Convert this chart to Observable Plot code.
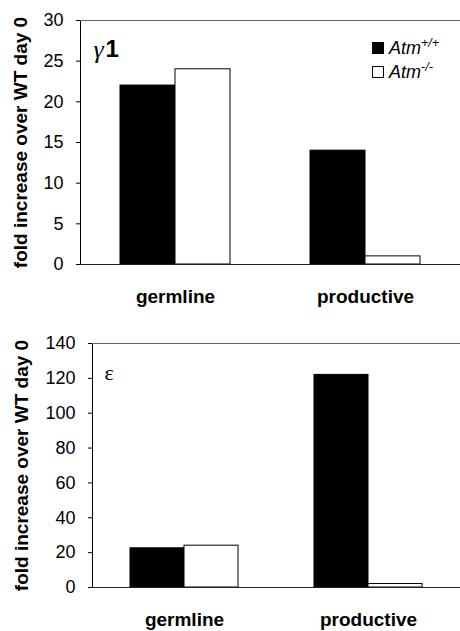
<!DOCTYPE html>
<html>
<head>
<meta charset="utf-8">
<script src="https://cdn.jsdelivr.net/npm/d3@7"></script>
<script src="https://cdn.jsdelivr.net/npm/@observablehq/plot@0.6"></script>
<style>
  html, body { margin: 0; padding: 0; background: #fff; }
  #chart { position: relative; width: 460px; height: 631px; font-family: "Liberation Sans", Arial, sans-serif; }
  #chart svg { display: block; }
  [aria-label="fx-axis tick label"] { font-size: 19px; font-weight: bold; }
  [aria-label="y-axis label"] { font-size: 19px; font-weight: bold; }
  [aria-label="y-axis tick"] { stroke: #888; }
  .legend { position: absolute; left: 372px; top: 36px; font-style: italic; font-size: 18px; line-height: 24px; }
  .legend .row { display: flex; align-items: center; }
  .legend .sw { width: 10px; height: 10px; border: 1px solid #000; margin-right: 5px; }
  .legend sup { font-size: 12.5px; vertical-align: 7px; line-height: 0; }
</style>
</head>
<body>
<div id="chart"></div>
<script>
// ---- data ----
const categories = ["germline", "productive"];
const seriesBase = "Atm";
const seriesGenotype = ["+/+", "-/-"];
const seriesColors = ["#000000", "#ffffff"];

const gamma1WT = [22, 14];
const gamma1KO = [24, 1];
const epsilonWT = [22.5, 122];
const epsilonKO = [24, 2];

const gamma1Ticks = [0, 5, 10, 15, 20, 25, 30];
const epsilonTicks = [0, 20, 40, 60, 80, 100, 120, 140];

const isotypeGreek = ["γ", "ε"];
const isotypeSuffix = ["1", ""];
const yLabel = "fold increase over WT day 0";

// ---- build ----
const seriesNames = seriesGenotype.map(g => seriesBase + g);
function rows(wt, ko) {
  const out = [];
  categories.forEach((c, i) => {
    out.push({category: c, series: seriesNames[0], value: wt[i]});
    out.push({category: c, series: seriesNames[1], value: ko[i]});
  });
  return out;
}

function panel({data, ticks, height, marginLeft, marginTop, marginBottom, labelOffset, greek, suffix, greekSize, greekStyle, greekDx, greekDy}) {
  const top = ticks[ticks.length - 1];
  const marks = [
    Plot.ruleY([top], {stroke: "#666", strokeWidth: 1}),
    Plot.barY(data, {fx: "category", x: "series", y: "value", fill: "series", stroke: "#000", strokeWidth: 1}),
    Plot.ruleY([0], {stroke: "#222", strokeWidth: 1}),
    Plot.text([greek], {fx: () => categories[0], text: d => d, frameAnchor: "top-left", textAnchor: "start", dx: greekDx, dy: greekDy, fontFamily: "Liberation Serif, serif", fontStyle: greekStyle, fontSize: greekSize, fill: "#000"})
  ];
  if (suffix) {
    marks.push(Plot.text([suffix], {fx: () => categories[0], text: d => d, frameAnchor: "top-left", textAnchor: "start", dx: greekDx + 12, dy: greekDy, fontFamily: "Liberation Sans, Arial, sans-serif", fontWeight: "bold", fontSize: 24, fill: "#000"}));
  }
  return Plot.plot({
    width: 460,
    height,
    marginLeft,
    marginRight: 0,
    marginTop,
    marginBottom,
    style: {fontFamily: "Liberation Sans, Arial, sans-serif", fontSize: "18px", color: "#000", background: "#fff", overflow: "visible"},
    fx: {domain: categories, padding: 0, label: null, tickSize: 0, tickPadding: 25, axis: "bottom"},
    x: {domain: seriesNames, paddingInner: 0, paddingOuter: 0.7, axis: null},
    y: {domain: [0, top], ticks, tickSize: 4, tickPadding: 13, label: yLabel, labelArrow: "none", labelAnchor: "center", labelOffset, line: true},
    color: {domain: seriesNames, range: seriesColors},
    marks
  });
}

const chart = document.getElementById("chart");
chart.appendChild(panel({data: rows(gamma1WT, gamma1KO), ticks: gamma1Ticks, height: 320, marginLeft: 80, marginTop: 20, marginBottom: 56, labelOffset: 67, greek: isotypeGreek[0], suffix: isotypeSuffix[0], greekSize: 26, greekStyle: "italic", greekDx: 13, greekDy: 19}));
chart.appendChild(panel({data: rows(epsilonWT, epsilonKO), ticks: epsilonTicks, height: 311, marginLeft: 91, marginTop: 23, marginBottom: 44, labelOffset: 78, greek: isotypeGreek[1], suffix: isotypeSuffix[1], greekSize: 22, greekStyle: "normal", greekDx: 12, greekDy: 21}));

// legend
const legend = document.createElement("div");
legend.className = "legend";
seriesGenotype.forEach((g, i) => {
  const row = document.createElement("div");
  row.className = "row";
  const sw = document.createElement("span");
  sw.className = "sw";
  sw.style.background = seriesColors[i];
  row.appendChild(sw);
  const t = document.createElement("span");
  t.textContent = seriesBase;
  const sup = document.createElement("sup");
  sup.textContent = g;
  t.appendChild(sup);
  row.appendChild(t);
  legend.appendChild(row);
});
chart.appendChild(legend);
</script>
</body>
</html>
